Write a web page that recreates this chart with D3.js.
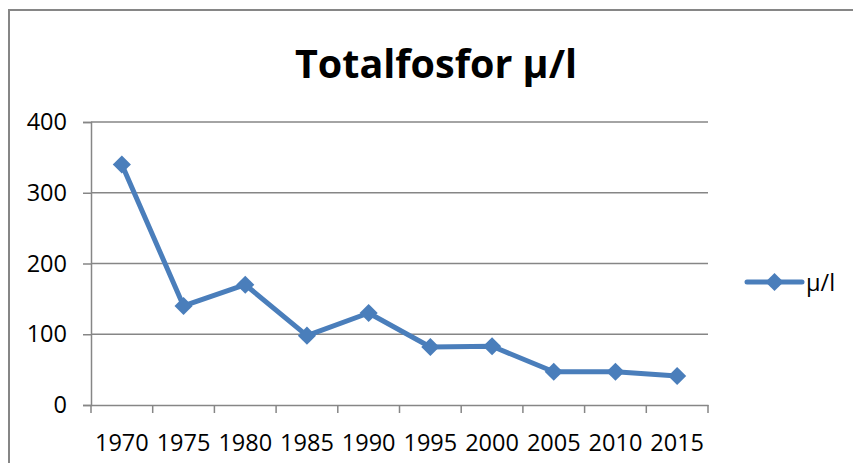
<!DOCTYPE html>
<html>
<head>
<meta charset="utf-8">
<script src="https://cdn.jsdelivr.net/npm/d3@7"></script>
<style>
  body { margin: 0; background: #fff; }
  text { font-family: "Open Sans", sans-serif; fill: #000; }
</style>
</head>
<body>
<div id="chart"></div>
<script>
const years = ["1970", "1975", "1980", "1985", "1990", "1995", "2000", "2005", "2010", "2015"];
const values = [340, 140, 170, 98, 130, 82, 83, 47, 47, 41];
const yTicks = [0, 100, 200, 300, 400];
const seriesName = "µ/l";
const chartTitle = "Totalfosfor µ/l";

const width = 853, height = 463;
const plot = { left: 91, right: 708, top: 122, bottom: 405 };
const blue = "#4a7ebb";
const gray = "#868686";
const labelSize = 23.5;

const svg = d3.select("#chart").append("svg")
    .attr("width", width)
    .attr("height", height);

// chart frame (only top and left edges fall inside the picture)
svg.append("path")
    .attr("d", "M9,463V10H853")
    .attr("fill", "none")
    .attr("stroke", gray)
    .attr("stroke-width", 2);

const x = d3.scaleBand().domain(years).range([plot.left, plot.right]);
const y = d3.scaleLinear().domain([0, 400]).range([plot.bottom, plot.top]);

// gridlines
svg.append("g")
    .selectAll("line")
    .data(yTicks.filter(d => d > 0))
    .enter().append("line")
    .attr("x1", plot.left).attr("x2", plot.right)
    .attr("y1", d => y(d)).attr("y2", d => y(d))
    .attr("stroke", gray).attr("stroke-width", 1.5);

// y axis
const yAxis = svg.append("g")
    .attr("transform", `translate(${plot.left},0)`)
    .call(d3.axisLeft(y).tickValues(yTicks).tickSize(8).tickPadding(16));
yAxis.select(".domain").attr("stroke", gray).attr("stroke-width", 1.5);
yAxis.selectAll(".tick line").attr("stroke", gray).attr("stroke-width", 1.5);
yAxis.selectAll(".tick text").attr("font-size", labelSize).attr("font-family", "Open Sans").attr("fill", "#000");

// x axis with ticks at band edges
const xAxis = svg.append("g")
    .attr("transform", `translate(0,${plot.bottom})`)
    .call(d3.axisBottom(x).tickSize(0).tickPadding(29));
xAxis.select(".domain").attr("stroke", gray).attr("stroke-width", 1.5);
xAxis.selectAll(".tick text").attr("font-size", labelSize).attr("font-family", "Open Sans").attr("fill", "#000");
xAxis.selectAll(".edge")
    .data(years.map(d => x(d)).concat([plot.right]))
    .enter().append("line")
    .attr("class", "edge")
    .attr("x1", d => d).attr("x2", d => d)
    .attr("y1", 0).attr("y2", 8)
    .attr("stroke", gray).attr("stroke-width", 1.5);

// line + markers
const line = d3.line()
    .x((d, i) => x(years[i]) + x.bandwidth() / 2)
    .y(d => y(d));

svg.append("path")
    .datum(values)
    .attr("d", line)
    .attr("fill", "none")
    .attr("stroke", blue)
    .attr("stroke-width", 5)
    .attr("stroke-linejoin", "round");

const diamond = d3.symbol().type(d3.symbolDiamond2).size(210);
svg.append("g")
    .selectAll("path")
    .data(values)
    .enter().append("path")
    .attr("d", diamond)
    .attr("transform", (d, i) => `translate(${x(years[i]) + x.bandwidth() / 2},${y(d)})`)
    .attr("fill", blue);

// title
svg.append("text")
    .attr("x", 436)
    .attr("y", 78)
    .attr("text-anchor", "middle")
    .attr("font-size", 40)
    .attr("font-weight", "bold")
    .attr("textLength", 282)
    .attr("lengthAdjust", "spacingAndGlyphs")
    .text(chartTitle);

// legend
const legend = svg.append("g").attr("transform", "translate(747,282)");
legend.append("line")
    .attr("x1", 0).attr("x2", 55)
    .attr("stroke", blue).attr("stroke-width", 5)
    .attr("stroke-linecap", "round");
legend.append("path")
    .attr("d", diamond)
    .attr("transform", "translate(27.5,0)")
    .attr("fill", blue);
legend.append("text")
    .attr("x", 59)
    .attr("y", 8.5)
    .attr("font-size", labelSize)
    .text(seriesName);
</script>
</body>
</html>
